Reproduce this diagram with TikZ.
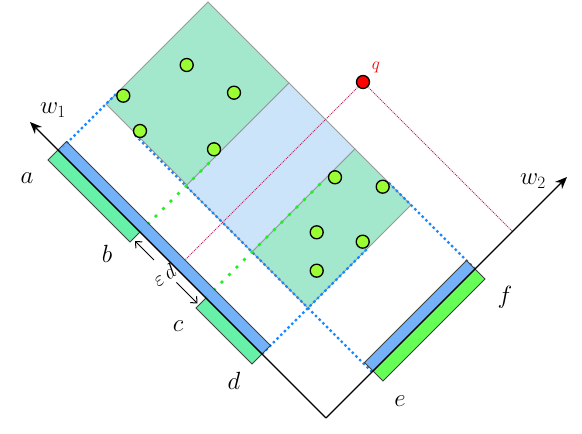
\documentclass[tikz,border=0pt]{standalone}
\usetikzlibrary{arrows.meta}
\definecolor{mintreg}{RGB}{163,232,205}
\definecolor{bluereg}{RGB}{204,228,250}
\definecolor{barblue}{RGB}{100,170,248}
\definecolor{barmint}{RGB}{102,240,168}
\definecolor{bargreen}{RGB}{102,255,85}
\definecolor{ptgreen}{RGB}{153,255,51}
\definecolor{dotblue}{RGB}{26,136,255}
\definecolor{dotgreen}{RGB}{40,235,40}
\definecolor{qline}{RGB}{190,30,90}
\tikzset{
  region/.style={draw=black!40, line width=0.8pt},
  bar/.style={draw=black!75, line width=0.8pt},
  bluedots/.style={dotblue, line width=2.4pt, dash pattern=on 2.4pt off 2.8pt},
  greendots/.style={dotgreen, line width=2.8pt, dash pattern=on 2.8pt off 7.8pt},
  qdots/.style={qline, line width=1pt, dash pattern=on 1pt off 1pt},
  axisline/.style={black, line width=1.2pt, -{Stealth[length=12pt,width=10pt]}},
  datapt/.style={circle, draw=black, line width=1.3pt, fill=ptgreen, minimum size=13pt, inner sep=0pt},
  qpt/.style={circle, draw=black, line width=1.3pt, fill=red, minimum size=13pt, inner sep=0pt},
  lbl/.style={font=\fontsize{27}{32}\selectfont, inner sep=0pt},
}
\begin{document}
\begin{tikzpicture}[x=1pt,y=1pt]
\useasboundingbox (0,0) rectangle (582,434);
\begin{scope}[cm={-1,1,1,1,(326pt,16pt)}]
  % regions
  \fill[mintreg] (186,47) -- (267,47) -- (267,149) -- (186,149) -- cycle;
  \draw[region] (186,47) -- (267,47) -- (267,149) -- (186,149) -- cycle;
  \fill[bluereg] (120,46) -- (186,46) -- (186,149) -- (120,149) -- cycle;
  \draw[region] (120,46) -- (186,46) -- (186,149) -- (120,149) -- cycle;
  \fill[mintreg] (64,46) -- (120,46) -- (120,149) -- (64,149) -- cycle;
  \draw[region] (64,46) -- (120,46) -- (120,149) -- (64,149) -- cycle;
  % query projections
  \coordinate (qc) at (149.5,186.5);
  \coordinate (q1) at (149.5,8.5);
  \coordinate (q2) at (0,186.5);
  \draw[qdots] (qc) -- (q1);
  \draw[qdots] (qc) -- (q2);
  % blue dotted projection lines
  \coordinate (l1a) at (267,0);  \coordinate (l1b) at (267,57);
  \coordinate (l2a) at (0,46);   \coordinate (l2b) at (237,46);
  \coordinate (l3a) at (64,0);   \coordinate (l3b) at (64,106);
  \coordinate (l4a) at (0,149);  \coordinate (l4b) at (87,149);
  \draw[bluedots] (l1a) -- (l1b);
  \draw[bluedots] (l2a) -- (l2b);
  \draw[bluedots] (l3a) -- (l3b);
  \draw[bluedots] (l4a) -- (l4b);
  % green dotted lines
  \coordinate (g1a) at (186,0);  \coordinate (g1b) at (186,75);
  \coordinate (g2a) at (120,0);  \coordinate (g2b) at (120,119);
  \draw[greendots] (g1a) -- (g1b);
  \draw[greendots] (g2a) -- (g2b);
  % bars on w1
  \fill[barmint] (186,-10) -- (268,-10) -- (268,0) -- (186,0) -- cycle;
  \draw[bar] (186,-10) -- (268,-10) -- (268,0) -- (186,0) -- cycle;
  \fill[barmint] (64,-10) -- (120,-10) -- (120,0) -- (64,0) -- cycle;
  \draw[bar] (64,-10) -- (120,-10) -- (120,0) -- (64,0) -- cycle;
  \fill[barblue, fill opacity=0.9] (64,0) -- (268,0) -- (268,8.5) -- (64,8.5) -- cycle;
  \draw[bar] (64,0) -- (268,0) -- (268,8.5) -- (64,8.5) -- cycle;
  % bars on w2
  \fill[bargreen] (-10,47) -- (0,47) -- (0,149) -- (-10,149) -- cycle;
  \draw[bar] (-10,47) -- (0,47) -- (0,149) -- (-10,149) -- cycle;
  \fill[barblue, fill opacity=0.9] (0,47) -- (8.5,47) -- (8.5,149) -- (0,149) -- cycle;
  \draw[bar] (0,47) -- (8.5,47) -- (8.5,149) -- (0,149) -- cycle;
  % axes
  \coordinate (O) at (0,0);
  \coordinate (W1) at (296,0);
  \coordinate (W2) at (0,241);
  \draw[axisline] (O) -- (W1);
  \draw[axisline] (O) -- (W2);
  % epsilon d arrow
  \coordinate (e1) at (184,-7);
  \coordinate (e2) at (165,-7);
  \coordinate (e3) at (142.5,-7);
  \coordinate (e4) at (121.5,-7);
  \draw[line width=1pt, -{Straight Barb[length=5pt,width=9pt]}] (e2) -- (e1);
  \draw[line width=1pt, -{Straight Barb[length=5pt,width=9pt]}] (e3) -- (e4);
\end{scope}
% query point
\node[qpt] (q) at (qc) {};
% data points (pixel coords, y up)
\node[datapt] (p1) at (186.7,369) {};
\node[datapt] (p2) at (123.3,338.3) {};
\node[datapt] (p3) at (234,341.3) {};
\node[datapt] (p4) at (140,303) {};
\node[datapt] (p5) at (214,284.7) {};
\node[datapt] (p6) at (335,256.7) {};
\node[datapt] (p7) at (382.7,247.3) {};
\node[datapt] (p8) at (316.7,201.7) {};
\node[datapt] (p9) at (362.7,192.3) {};
\node[datapt] (p10) at (316.7,163.3) {};
% labels
\node[lbl] (lw1) at (53,324) {$w_1$};
\node[lbl] (la) at (27,256) {$a$};
\node[lbl] (lb) at (107,180) {$b$};
\node[lbl] (lc) at (178,108) {$c$};
\node[lbl] (ld) at (234,53) {$d$};
\node[lbl] (le) at (400,33) {$e$};
\node[lbl] (lf) at (505,137) {$f$};
\node[lbl] (lw2) at (533,253) {$w_2$};
\node[font=\fontsize{17}{20}\selectfont, text=red, inner sep=0pt] (lq) at (376,367) {$q$};
\node[font=\fontsize{20}{24}\selectfont, inner sep=0pt, rotate=33] (leps) at (164,159) {$\varepsilon\,d$};
\end{tikzpicture}
\end{document}
